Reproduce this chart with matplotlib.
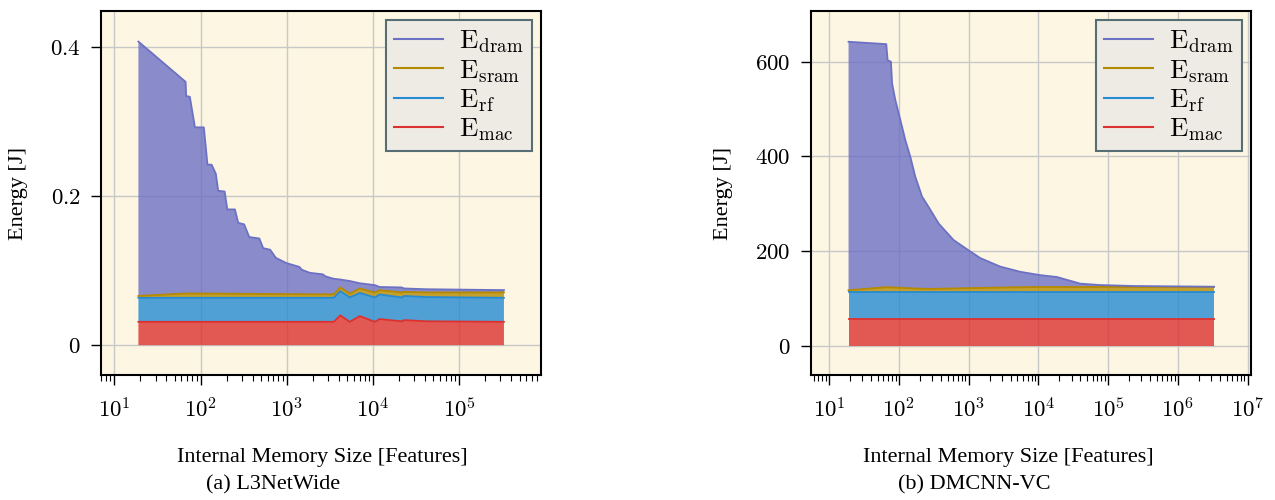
import numpy as np
import matplotlib
matplotlib.use("Agg")
import matplotlib.pyplot as plt
from matplotlib.ticker import LogLocator, FuncFormatter, FixedLocator, NullFormatter

plt.rcParams['font.family'] = 'serif'
plt.rcParams['font.serif'] = ['Liberation Serif', 'DejaVu Serif']
plt.rcParams['mathtext.fontset'] = 'cm'

# ---------------- data: L3NetWide ----------------
x_l3 = [19, 67, 68, 75, 86, 109, 117, 120, 134, 150, 160, 190, 204, 250, 273, 320,
        366, 480, 532, 640, 747, 990, 1390, 1500, 1845, 2600, 2830, 3500, 4170,
        5370, 7010, 10450, 11940, 21300, 23000, 41500, 329000]
total_l3 = [0.407, 0.353, 0.334, 0.333, 0.292, 0.292, 0.256, 0.242, 0.242, 0.230,
            0.207, 0.206, 0.182, 0.182, 0.164, 0.162, 0.145, 0.143, 0.130, 0.128,
            0.117, 0.110, 0.105, 0.101, 0.097, 0.095, 0.092, 0.089, 0.088, 0.086,
            0.083, 0.0805, 0.078, 0.0774, 0.076, 0.075, 0.0738]
sram_top_l3 = [0.0660, 0.0693, 0.0693, 0.0693, 0.0692, 0.0692, 0.0692, 0.0692,
               0.0691, 0.0691, 0.0691, 0.0690, 0.0690, 0.0689, 0.0689, 0.0688,
               0.0688, 0.0687, 0.0686, 0.0686, 0.0685, 0.0684, 0.0683, 0.0683,
               0.0682, 0.0681, 0.0681, 0.0680, 0.0774, 0.0690, 0.0760, 0.0707,
               0.0738, 0.0707, 0.0715, 0.0707, 0.0707]
rf_top_l3 = [0.0635] * 28 + [0.0725, 0.0640, 0.0700, 0.0640, 0.0680, 0.0640,
                             0.0660, 0.0645, 0.0635]
mac_l3 = [0.0313] * 28 + [0.0400, 0.0313, 0.0390, 0.0313, 0.0350, 0.0320,
                          0.0336, 0.0320, 0.0313]

# ---------------- data: DMCNN-VC ----------------
x_dm = [19, 66, 69, 77, 80, 89, 105, 124, 146, 172, 215, 283, 372, 610, 1057,
        1470, 2840, 5500, 10600, 18500, 39900, 77400, 233000, 3.3e6]
total_dm = [642, 637, 603, 600, 554, 519, 477, 434, 399, 357, 315, 287, 258, 223,
            199, 185, 167, 156, 149, 145, 131, 128, 126, 124.5]
sram_top_dm = [117, 123.5, 123.4, 123.1, 123, 122.7, 122.2, 121.7, 121.2, 120.7,
               120.2, 120, 120.2, 120.8, 121.6, 122, 122.8, 123.5, 124, 124,
               124, 124, 124, 124]
rf_top_dm = [113] * 24
mac_dm = [57] * 24

labels = [r'$\mathrm{E}_{\mathrm{dram}}$', r'$\mathrm{E}_{\mathrm{sram}}$',
          r'$\mathrm{E}_{\mathrm{rf}}$', r'$\mathrm{E}_{\mathrm{mac}}$']
colors = {'dram': '#6C71C4', 'sram': '#B58900', 'rf': '#268BD2', 'mac': '#DC322F'}


def components(total, sram_top, rf_top, mac):
    total, sram_top, rf_top, mac = map(np.asarray, (total, sram_top, rf_top, mac))
    return mac, rf_top - mac, sram_top - rf_top, total - sram_top


fig = plt.figure(figsize=(12.75, 5), dpi=100)
fig.patch.set_facecolor('white')
W, H = 1275, 500
LABEL_FS = 16


def make_panel(rect, x, total, sram_top, rf_top, mac, xlim, ylim, yticks, yfmt,
               xticks, caption, cap_x, xlabel_x, ylabel_x):
    ax = fig.add_axes(rect)
    ax.set_facecolor('#FDF6E3')
    mac_c, rf_c, sram_c, dram_c = components(total, sram_top, rf_top, mac)
    x = np.asarray(x, dtype=float)
    order = ['mac', 'rf', 'sram', 'dram']
    ax.stackplot(x, mac_c, rf_c, sram_c, dram_c,
                 colors=[colors[k] for k in order], alpha=0.8, linewidth=0,
                 zorder=2)
    cum = np.cumsum(np.vstack([mac_c, rf_c, sram_c, dram_c]), axis=0)
    handles = {}
    for i, k in enumerate(order):
        ln, = ax.plot(x, cum[i], color=colors[k], lw=1.3, zorder=3)
        handles[k] = ln
    ax.set_xscale('log')
    ax.set_xlim(*xlim)
    ax.set_ylim(*ylim)
    ax.xaxis.set_major_locator(FixedLocator(xticks))
    ax.xaxis.set_major_formatter(FuncFormatter(lambda v, p: r'$10^{%d}$' % round(np.log10(v))))
    ax.xaxis.set_minor_locator(LogLocator(base=10, subs=np.arange(2, 10), numticks=30))
    ax.xaxis.set_minor_formatter(NullFormatter())
    ax.yaxis.set_major_locator(FixedLocator(yticks))
    ax.yaxis.set_major_formatter(FuncFormatter(yfmt))
    ax.grid(True, which='major', color='#c8c8c8', lw=1.0, zorder=1)
    ax.set_axisbelow(True)
    for s in ax.spines.values():
        s.set_color('black')
        s.set_linewidth(1.5)
        s.set_zorder(5)
    ax.tick_params(which='major', direction='out', length=7.5, width=1.0,
                   labelsize=16.5, color='black')
    ax.tick_params(axis='x', which='major', pad=9)
    ax.tick_params(axis='y', which='major', pad=7)
    ax.tick_params(which='minor', direction='out', length=4.5, width=0.8,
                   color='black')
    ax.set_xlabel('Internal Memory Size [Features]', fontsize=LABEL_FS)
    ax.set_ylabel('Energy [J]', fontsize=LABEL_FS)
    ax.xaxis.set_label_coords(xlabel_x, -0.2)
    ax.yaxis.set_label_coords(ylabel_x, 0.5)
    leg = ax.legend([handles['dram'], handles['sram'], handles['rf'], handles['mac']],
                    labels, loc='upper right', fontsize=19.5, frameon=True,
                    fancybox=False, framealpha=1, facecolor='#eeebe4',
                    edgecolor='#586e75', handlelength=1.8, handletextpad=0.6,
                    labelspacing=0.1, borderpad=0.3, borderaxespad=0.35)
    leg.get_frame().set_linewidth(1.5)
    leg.set_zorder(6)
    for ln in leg.get_lines():
        ln.set_linewidth(1.5)
    fig.text(cap_x / W, 1 - 489 / H, caption, ha='center', va='baseline',
             fontsize=LABEL_FS)
    return ax


ax1 = make_panel([101 / W, 125 / H, 440 / W, 364 / H], x_l3, total_l3, sram_top_l3,
                 rf_top_l3, mac_l3, (7.0, 8.85e5), (-0.040, 0.448),
                 [0, 0.2, 0.4], lambda v, p: '$0$' if v == 0 else r'$%.1f$' % v,
                 [1e1, 1e2, 1e3, 1e4, 1e5], '(a) L3NetWide', 273, 0.503, -0.166)

ax2 = make_panel([811 / W, 125 / H, 440 / W, 364 / H], x_dm, total_dm, sram_top_dm,
                 rf_top_dm, mac_dm, (5.5, 1.12e7), (-62, 707),
                 [0, 200, 400, 600], lambda v, p: r'$%d$' % v,
                 [1e1, 1e2, 1e3, 1e4, 1e5, 1e6, 1e7], '(b) DMCNN-VC', 974, 0.448, -0.177)

fig.savefig('out.png', dpi=100, facecolor='white')
